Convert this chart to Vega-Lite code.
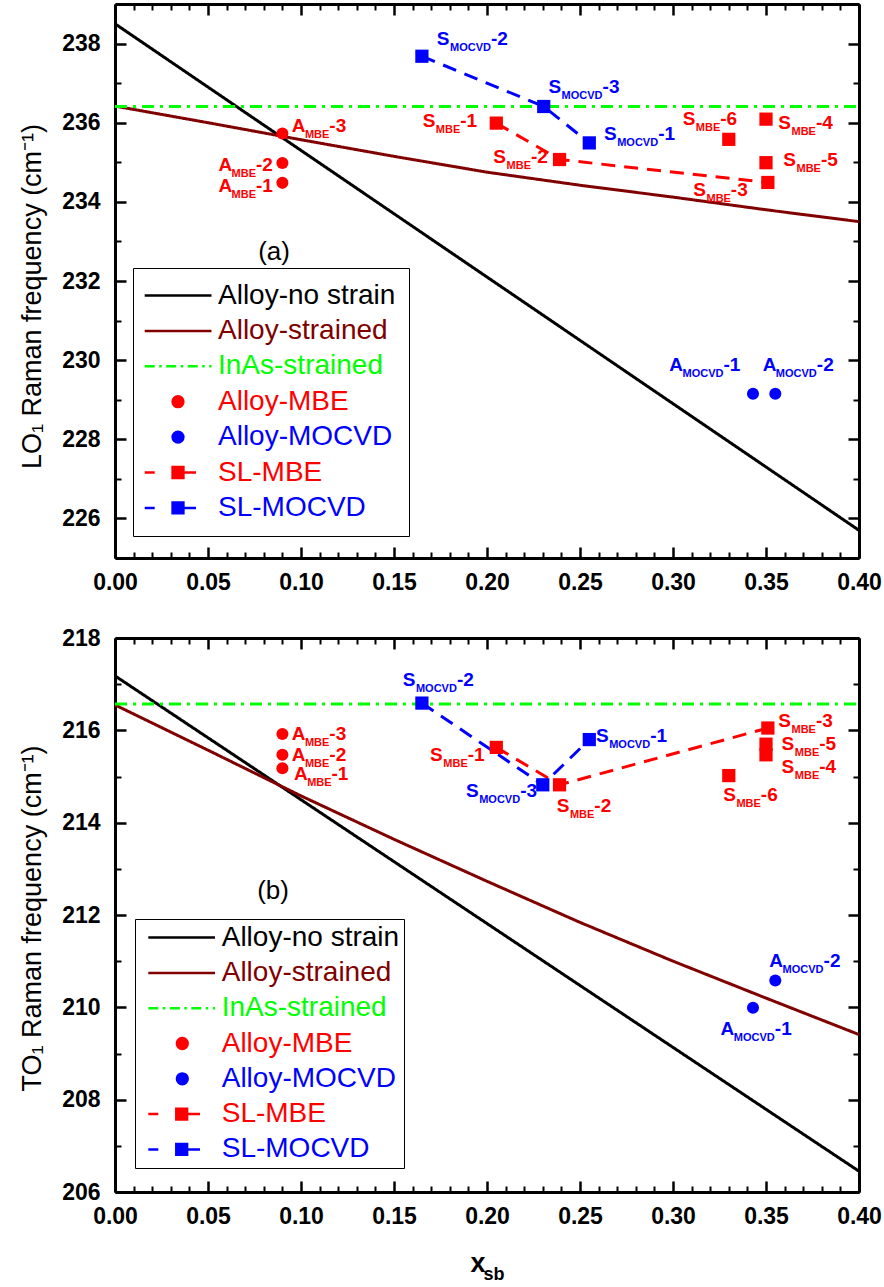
{
  "$schema": "https://vega.github.io/schema/vega-lite/v6.json",
  "padding": {"left": 18, "top": 2, "right": 0, "bottom": 0},
  "background": "white",
  "spacing": 33,
  "config": {
    "font": "Liberation Sans",
    "view": {"stroke": null},
    "axis": {"grid": false, "domainColor": "black", "tickColor": "black", "labelColor": "black", "titleColor": "black", "labelFont": "Liberation Sans", "titleFont": "Liberation Sans", "labelFlush": false, "labelOverlap": false}
  },
  "resolve": {"scale": {"color": "independent", "fill": "independent", "stroke": "independent", "shape": "independent", "strokeDash": "independent"}},
  "datasets": {
    "curves": [
      {"p": "a", "series": "Alloy-no strain", "x": 0, "y": 238.5},
      {"p": "a", "series": "Alloy-no strain", "x": 0.4, "y": 225.7},
      {"p": "a", "series": "Alloy-strained", "x": 0, "y": 236.42},
      {"p": "a", "series": "Alloy-strained", "x": 0.05, "y": 236.0},
      {"p": "a", "series": "Alloy-strained", "x": 0.1, "y": 235.57},
      {"p": "a", "series": "Alloy-strained", "x": 0.15, "y": 235.15},
      {"p": "a", "series": "Alloy-strained", "x": 0.2, "y": 234.75},
      {"p": "a", "series": "Alloy-strained", "x": 0.25, "y": 234.42},
      {"p": "a", "series": "Alloy-strained", "x": 0.3, "y": 234.12},
      {"p": "a", "series": "Alloy-strained", "x": 0.35, "y": 233.8},
      {"p": "a", "series": "Alloy-strained", "x": 0.4, "y": 233.5},
      {"p": "a", "series": "InAs-strained", "x": 0, "y": 236.41},
      {"p": "a", "series": "InAs-strained", "x": 0.4, "y": 236.41},
      {"p": "b", "series": "Alloy-no strain", "x": 0, "y": 217.18},
      {"p": "b", "series": "Alloy-no strain", "x": 0.4, "y": 206.45},
      {"p": "b", "series": "Alloy-strained", "x": 0, "y": 216.55},
      {"p": "b", "series": "Alloy-strained", "x": 0.05, "y": 215.57},
      {"p": "b", "series": "Alloy-strained", "x": 0.1, "y": 214.58},
      {"p": "b", "series": "Alloy-strained", "x": 0.15, "y": 213.64},
      {"p": "b", "series": "Alloy-strained", "x": 0.2, "y": 212.73},
      {"p": "b", "series": "Alloy-strained", "x": 0.25, "y": 211.84},
      {"p": "b", "series": "Alloy-strained", "x": 0.3, "y": 211.0},
      {"p": "b", "series": "Alloy-strained", "x": 0.35, "y": 210.2},
      {"p": "b", "series": "Alloy-strained", "x": 0.4, "y": 209.41},
      {"p": "b", "series": "InAs-strained", "x": 0, "y": 216.57},
      {"p": "b", "series": "InAs-strained", "x": 0.4, "y": 216.57}
    ],
    "pts": [
      {"p": "a", "series": "Alloy-MBE", "pre": "A", "sub": "MBE", "num": "-3", "x": 0.09, "y": 235.73, "lx": 0.095, "ly": 235.76, "conn": false},
      {"p": "a", "series": "Alloy-MBE", "pre": "A", "sub": "MBE", "num": "-2", "x": 0.09, "y": 234.98, "lx": 0.0556, "ly": 234.79, "conn": false},
      {"p": "a", "series": "Alloy-MBE", "pre": "A", "sub": "MBE", "num": "-1", "x": 0.09, "y": 234.48, "lx": 0.0556, "ly": 234.24, "conn": false},
      {"p": "a", "series": "Alloy-MOCVD", "pre": "A", "sub": "MOCVD", "num": "-1", "x": 0.343, "y": 229.15, "lx": 0.298, "ly": 229.73, "conn": false},
      {"p": "a", "series": "Alloy-MOCVD", "pre": "A", "sub": "MOCVD", "num": "-2", "x": 0.355, "y": 229.15, "lx": 0.3482, "ly": 229.73, "conn": false},
      {"p": "a", "series": "SL-MBE", "pre": "S", "sub": "MBE", "num": "-1", "x": 0.205, "y": 235.99, "lx": 0.1654, "ly": 235.88, "conn": true},
      {"p": "a", "series": "SL-MBE", "pre": "S", "sub": "MBE", "num": "-2", "x": 0.239, "y": 235.07, "lx": 0.2034, "ly": 234.98, "conn": true},
      {"p": "a", "series": "SL-MBE", "pre": "S", "sub": "MBE", "num": "-3", "x": 0.351, "y": 234.49, "lx": 0.3109, "ly": 234.16, "conn": true},
      {"p": "a", "series": "SL-MBE", "pre": "S", "sub": "MBE", "num": "-4", "x": 0.35, "y": 236.09, "lx": 0.3566, "ly": 235.84, "conn": false},
      {"p": "a", "series": "SL-MBE", "pre": "S", "sub": "MBE", "num": "-5", "x": 0.35, "y": 234.99, "lx": 0.3593, "ly": 234.91, "conn": false},
      {"p": "a", "series": "SL-MBE", "pre": "S", "sub": "MBE", "num": "-6", "x": 0.33, "y": 235.58, "lx": 0.3052, "ly": 235.93, "conn": false},
      {"p": "a", "series": "SL-MOCVD", "pre": "S", "sub": "MOCVD", "num": "-1", "x": 0.255, "y": 235.49, "lx": 0.2629, "ly": 235.56, "conn": true},
      {"p": "a", "series": "SL-MOCVD", "pre": "S", "sub": "MOCVD", "num": "-2", "x": 0.165, "y": 237.68, "lx": 0.173, "ly": 237.97, "conn": true},
      {"p": "a", "series": "SL-MOCVD", "pre": "S", "sub": "MOCVD", "num": "-3", "x": 0.2305, "y": 236.41, "lx": 0.233, "ly": 236.74, "conn": true},
      {"p": "b", "series": "Alloy-MBE", "pre": "A", "sub": "MBE", "num": "-3", "x": 0.09, "y": 215.92, "lx": 0.095, "ly": 215.78, "conn": false},
      {"p": "b", "series": "Alloy-MBE", "pre": "A", "sub": "MBE", "num": "-2", "x": 0.09, "y": 215.47, "lx": 0.095, "ly": 215.34, "conn": false},
      {"p": "b", "series": "Alloy-MBE", "pre": "A", "sub": "MBE", "num": "-1", "x": 0.09, "y": 215.18, "lx": 0.0962, "ly": 214.92, "conn": false},
      {"p": "b", "series": "Alloy-MOCVD", "pre": "A", "sub": "MOCVD", "num": "-1", "x": 0.343, "y": 209.99, "lx": 0.3256, "ly": 209.4, "conn": false},
      {"p": "b", "series": "Alloy-MOCVD", "pre": "A", "sub": "MOCVD", "num": "-2", "x": 0.355, "y": 210.58, "lx": 0.3518, "ly": 210.88, "conn": false},
      {"p": "b", "series": "SL-MBE", "pre": "S", "sub": "MBE", "num": "-1", "x": 0.205, "y": 215.63, "lx": 0.1694, "ly": 215.33, "conn": true},
      {"p": "b", "series": "SL-MBE", "pre": "S", "sub": "MBE", "num": "-2", "x": 0.239, "y": 214.82, "lx": 0.2375, "ly": 214.24, "conn": true},
      {"p": "b", "series": "SL-MBE", "pre": "S", "sub": "MBE", "num": "-3", "x": 0.351, "y": 216.05, "lx": 0.3566, "ly": 216.08, "conn": true},
      {"p": "b", "series": "SL-MBE", "pre": "S", "sub": "MBE", "num": "-4", "x": 0.35, "y": 215.47, "lx": 0.3584, "ly": 215.07, "conn": false},
      {"p": "b", "series": "SL-MBE", "pre": "S", "sub": "MBE", "num": "-5", "x": 0.35, "y": 215.7, "lx": 0.3584, "ly": 215.57, "conn": false},
      {"p": "b", "series": "SL-MBE", "pre": "S", "sub": "MBE", "num": "-6", "x": 0.33, "y": 215.02, "lx": 0.327, "ly": 214.47, "conn": false},
      {"p": "b", "series": "SL-MOCVD", "pre": "S", "sub": "MOCVD", "num": "-1", "x": 0.255, "y": 215.8, "lx": 0.2586, "ly": 215.75, "conn": true},
      {"p": "b", "series": "SL-MOCVD", "pre": "S", "sub": "MOCVD", "num": "-2", "x": 0.165, "y": 216.59, "lx": 0.1547, "ly": 216.95, "conn": true},
      {"p": "b", "series": "SL-MOCVD", "pre": "S", "sub": "MOCVD", "num": "-3", "x": 0.23, "y": 214.82, "lx": 0.1887, "ly": 214.56, "conn": true}
    ],
    "tags": [
      {"p": "a", "t": "(a)", "x": 0.0855, "y": 232.73},
      {"p": "b", "t": "(b)", "x": 0.085, "y": 212.51}
    ]
  },
  "vconcat": [
    {
      "width": 744,
      "height": 554,
      "resolve": {"axis": {"x": "independent", "y": "independent"}},
      "layer": [
        {
          "data": {"name": "curves"},
          "transform": [{"filter": "datum.p === 'a'"}],
          "mark": {"type": "line", "strokeWidth": 3},
          "encoding": {
            "x": {"field": "x", "type": "quantitative", "scale": {"domain": [0, 0.4], "nice": false, "zero": false},
              "axis": {"orient": "bottom", "values": [0, 0.05, 0.1, 0.15, 0.2, 0.25, 0.3, 0.35, 0.4], "format": ".2f", "labelFontSize": 23, "labelFontWeight": "bold", "tickSize": -11, "tickWidth": 2.5, "domainWidth": 3, "labelPadding": 24, "title": null}},
            "y": {"field": "y", "type": "quantitative", "scale": {"domain": [225, 239], "nice": false, "zero": false},
              "axis": {"orient": "left", "values": [226, 228, 230, 232, 234, 236, 238], "labelFontSize": 23, "labelFontWeight": "bold", "tickSize": -11, "tickWidth": 2.5, "domainWidth": 3, "labelPadding": 26,
                "title": "LO₁ Raman frequency (cm⁻¹)", "titleFontSize": 27, "titleFontWeight": "normal", "titleX": -83, "titleY": 292, "titleAngle": -90, "titleAlign": "center", "titleBaseline": "middle"}},
            "color": {"field": "series", "type": "nominal", "legend": null,
              "scale": {"domain": ["SL-MOCVD", "SL-MBE", "Alloy-MOCVD", "Alloy-MBE", "InAs-strained", "Alloy-strained", "Alloy-no strain"], "range": ["#0000ff", "#ff0000", "#0000ff", "#ff0000", "#00ff00", "#800000", "#000000"]}},
            "strokeDash": {"field": "series", "type": "nominal", "legend": null,
              "scale": {"domain": ["Alloy-no strain", "Alloy-strained", "InAs-strained"], "range": [[1, 0], [1, 0], [12, 6, 3, 6]]}}
          }
        },
        {
          "data": {"name": "pts"},
          "transform": [{"filter": "datum.p === 'a' && datum.conn"}],
          "mark": {"type": "line", "strokeWidth": 3, "strokeDash": [14, 9]},
          "encoding": {
            "x": {"field": "x", "type": "quantitative", "scale": {"domain": [0, 0.4], "nice": false, "zero": false},
              "axis": {"orient": "top", "values": [0, 0.05, 0.1, 0.15, 0.2, 0.25, 0.3, 0.35, 0.4], "labels": false, "tickSize": -11, "tickWidth": 2.5, "domainWidth": 3, "title": null}},
            "y": {"field": "y", "type": "quantitative", "scale": {"domain": [225, 239], "nice": false, "zero": false},
              "axis": {"orient": "right", "values": [226, 228, 230, 232, 234, 236, 238], "labels": false, "tickSize": -11, "tickWidth": 2.5, "domainWidth": 3, "title": null}},
            "color": {"field": "series", "type": "nominal", "legend": null,
              "scale": {"domain": ["SL-MOCVD", "SL-MBE", "Alloy-MOCVD", "Alloy-MBE", "InAs-strained", "Alloy-strained", "Alloy-no strain"], "range": ["#0000ff", "#ff0000", "#0000ff", "#ff0000", "#00ff00", "#800000", "#000000"]}},
            "order": {"field": "x", "type": "quantitative"}
          }
        },
        {
          "data": {"name": "pts"},
          "transform": [{"filter": "datum.p === 'a' && datum.pre === 'A'"}],
          "mark": {"type": "point", "shape": "circle", "filled": true, "opacity": 1, "size": 145},
          "encoding": {
            "x": {"field": "x", "type": "quantitative", "scale": {"domain": [0, 0.4], "nice": false, "zero": false},
              "axis": {"orient": "bottom", "values": [0.01, 0.02, 0.03, 0.04, 0.06, 0.07, 0.08, 0.09, 0.11, 0.12, 0.13, 0.14, 0.16, 0.17, 0.18, 0.19, 0.21, 0.22, 0.23, 0.24, 0.26, 0.27, 0.28, 0.29, 0.31, 0.32, 0.33, 0.34, 0.36, 0.37, 0.38, 0.39], "labels": false, "domain": false, "tickSize": -6, "tickWidth": 2, "title": null}},
            "y": {"field": "y", "type": "quantitative", "scale": {"domain": [225, 239], "nice": false, "zero": false},
              "axis": {"orient": "left", "values": [225, 227, 229, 231, 233, 235, 237, 239], "labels": false, "domain": false, "tickSize": -6, "tickWidth": 2, "title": null}},
            "color": {"field": "series", "type": "nominal", "legend": null,
              "scale": {"domain": ["SL-MOCVD", "SL-MBE", "Alloy-MOCVD", "Alloy-MBE", "InAs-strained", "Alloy-strained", "Alloy-no strain"], "range": ["#0000ff", "#ff0000", "#0000ff", "#ff0000", "#00ff00", "#800000", "#000000"]}}
          }
        },
        {
          "data": {"name": "pts"},
          "transform": [{"filter": "datum.p === 'a' && datum.pre === 'S'"}],
          "mark": {"type": "point", "shape": "square", "filled": true, "opacity": 1, "size": 175},
          "encoding": {
            "x": {"field": "x", "type": "quantitative", "scale": {"domain": [0, 0.4], "nice": false, "zero": false},
              "axis": {"orient": "top", "values": [0.01, 0.02, 0.03, 0.04, 0.06, 0.07, 0.08, 0.09, 0.11, 0.12, 0.13, 0.14, 0.16, 0.17, 0.18, 0.19, 0.21, 0.22, 0.23, 0.24, 0.26, 0.27, 0.28, 0.29, 0.31, 0.32, 0.33, 0.34, 0.36, 0.37, 0.38, 0.39], "labels": false, "domain": false, "tickSize": -6, "tickWidth": 2, "title": null}},
            "y": {"field": "y", "type": "quantitative", "scale": {"domain": [225, 239], "nice": false, "zero": false},
              "axis": {"orient": "right", "values": [225, 227, 229, 231, 233, 235, 237, 239], "labels": false, "domain": false, "tickSize": -6, "tickWidth": 2, "title": null}},
            "color": {"field": "series", "type": "nominal", "legend": null,
              "scale": {"domain": ["SL-MOCVD", "SL-MBE", "Alloy-MOCVD", "Alloy-MBE", "InAs-strained", "Alloy-strained", "Alloy-no strain"], "range": ["#0000ff", "#ff0000", "#0000ff", "#ff0000", "#00ff00", "#800000", "#000000"]}}
          }
        },
        {
          "data": {"name": "pts"},
          "transform": [{"filter": "datum.p === 'a'"}],
          "mark": {"type": "text", "align": "left", "baseline": "alphabetic", "fontSize": 19, "fontWeight": "bold"},
          "encoding": {
            "x": {"field": "lx", "type": "quantitative", "scale": {"domain": [0, 0.4], "nice": false, "zero": false}, "axis": null},
            "y": {"field": "ly", "type": "quantitative", "scale": {"domain": [225, 239], "nice": false, "zero": false}, "axis": null},
            "text": {"field": "pre"},
            "color": {"field": "series", "type": "nominal", "legend": null,
              "scale": {"domain": ["SL-MOCVD", "SL-MBE", "Alloy-MOCVD", "Alloy-MBE", "InAs-strained", "Alloy-strained", "Alloy-no strain"], "range": ["#0000ff", "#ff0000", "#0000ff", "#ff0000", "#00ff00", "#800000", "#000000"]}}
          }
        },
        {
          "data": {"name": "pts"},
          "transform": [{"filter": "datum.p === 'a'"}],
          "mark": {"type": "text", "align": "left", "baseline": "alphabetic", "fontSize": 11, "fontWeight": "bold", "dx": 13.2, "dy": 6},
          "encoding": {
            "x": {"field": "lx", "type": "quantitative", "scale": {"domain": [0, 0.4], "nice": false, "zero": false}, "axis": null},
            "y": {"field": "ly", "type": "quantitative", "scale": {"domain": [225, 239], "nice": false, "zero": false}, "axis": null},
            "text": {"field": "sub"},
            "color": {"field": "series", "type": "nominal", "legend": null,
              "scale": {"domain": ["SL-MOCVD", "SL-MBE", "Alloy-MOCVD", "Alloy-MBE", "InAs-strained", "Alloy-strained", "Alloy-no strain"], "range": ["#0000ff", "#ff0000", "#0000ff", "#ff0000", "#00ff00", "#800000", "#000000"]}}
          }
        },
        {
          "data": {"name": "pts"},
          "transform": [{"filter": "datum.p === 'a' && datum.sub === 'MBE'"}],
          "mark": {"type": "text", "align": "left", "baseline": "alphabetic", "fontSize": 19, "fontWeight": "bold", "dx": 37.6},
          "encoding": {
            "x": {"field": "lx", "type": "quantitative", "scale": {"domain": [0, 0.4], "nice": false, "zero": false}, "axis": null},
            "y": {"field": "ly", "type": "quantitative", "scale": {"domain": [225, 239], "nice": false, "zero": false}, "axis": null},
            "text": {"field": "num"},
            "color": {"field": "series", "type": "nominal", "legend": null,
              "scale": {"domain": ["SL-MOCVD", "SL-MBE", "Alloy-MOCVD", "Alloy-MBE", "InAs-strained", "Alloy-strained", "Alloy-no strain"], "range": ["#0000ff", "#ff0000", "#0000ff", "#ff0000", "#00ff00", "#800000", "#000000"]}}
          }
        },
        {
          "data": {"name": "pts"},
          "transform": [{"filter": "datum.p === 'a' && datum.sub === 'MOCVD'"}],
          "mark": {"type": "text", "align": "left", "baseline": "alphabetic", "fontSize": 19, "fontWeight": "bold", "dx": 54.2},
          "encoding": {
            "x": {"field": "lx", "type": "quantitative", "scale": {"domain": [0, 0.4], "nice": false, "zero": false}, "axis": null},
            "y": {"field": "ly", "type": "quantitative", "scale": {"domain": [225, 239], "nice": false, "zero": false}, "axis": null},
            "text": {"field": "num"},
            "color": {"field": "series", "type": "nominal", "legend": null,
              "scale": {"domain": ["SL-MOCVD", "SL-MBE", "Alloy-MOCVD", "Alloy-MBE", "InAs-strained", "Alloy-strained", "Alloy-no strain"], "range": ["#0000ff", "#ff0000", "#0000ff", "#ff0000", "#00ff00", "#800000", "#000000"]}}
          }
        },
        {
          "data": {"name": "tags"},
          "transform": [{"filter": "datum.p === 'a'"}],
          "mark": {"type": "text", "align": "center", "baseline": "middle", "fontSize": 26, "color": "black"},
          "encoding": {
            "x": {"field": "x", "type": "quantitative", "scale": {"domain": [0, 0.4], "nice": false, "zero": false}, "axis": null},
            "y": {"field": "y", "type": "quantitative", "scale": {"domain": [225, 239], "nice": false, "zero": false}, "axis": null},
            "text": {"field": "t"}
          }
        },
        {
          "data": {"name": "pts"},
          "transform": [{"filter": "false"}],
          "mark": {"type": "point"},
          "encoding": {
            "x": {"field": "x", "type": "quantitative", "scale": {"domain": [0, 0.4], "nice": false, "zero": false}, "axis": null},
            "y": {"field": "y", "type": "quantitative", "scale": {"domain": [225, 239], "nice": false, "zero": false}, "axis": null},
            "fill": {"field": "series", "type": "nominal",
              "scale": {"domain": ["Alloy-no strain", "Alloy-strained", "InAs-strained", "Alloy-MBE", "Alloy-MOCVD", "SL-MBE", "SL-MOCVD"], "range": ["#000000", "#800000", "#00ff00", "#ff0000", "#0000ff", "#ff0000", "#0000ff"]},
              "legend": {"title": null, "orient": "none", "legendX": 18, "legendY": 264, "padding": 13.5, "strokeColor": "black", "symbolSize": 400, "symbolStrokeWidth": 2.5, "symbolFillColor": "black", "symbolOpacity": 1, "labelFontSize": 28, "labelFont": "Liberation Sans", "labelOffset": 43.5, "rowPadding": 7.4, "labelLimit": 400,
                "labelColor": {"expr": "datum.value === 'Alloy-no strain' ? '#000000' : datum.value === 'Alloy-strained' ? '#800000' : datum.value === 'InAs-strained' ? '#00ff00' : indexof(datum.value, 'MOCVD') >= 0 ? '#0000ff' : '#ff0000'"}}},
            "stroke": {"field": "series", "type": "nominal",
              "scale": {"domain": ["Alloy-no strain", "Alloy-strained", "InAs-strained", "Alloy-MBE", "Alloy-MOCVD", "SL-MBE", "SL-MOCVD"], "range": ["#000000", "#800000", "#00ff00", "#ff0000", "#0000ff", "#ff0000", "#0000ff"]},
              "legend": {"title": null, "orient": "none", "legendX": 18, "legendY": 264, "padding": 13.5, "strokeColor": "black", "symbolSize": 400, "symbolStrokeWidth": 2.5, "symbolFillColor": "black", "symbolOpacity": 1, "labelFontSize": 28, "labelFont": "Liberation Sans", "labelOffset": 43.5, "rowPadding": 7.4, "labelLimit": 400,
                "labelColor": {"expr": "datum.value === 'Alloy-no strain' ? '#000000' : datum.value === 'Alloy-strained' ? '#800000' : datum.value === 'InAs-strained' ? '#00ff00' : indexof(datum.value, 'MOCVD') >= 0 ? '#0000ff' : '#ff0000'"}}},
            "shape": {"field": "series", "type": "nominal",
              "scale": {"domain": ["Alloy-no strain", "Alloy-strained", "InAs-strained", "Alloy-MBE", "Alloy-MOCVD", "SL-MBE", "SL-MOCVD"],
                "range": ["M-1.58,0H5.1", "M-1.58,0H5.1", "M-1.58,0H-0.58M-0.13,0H0.12M0.57,0H1.57M2.02,0H2.27M2.72,0H3.72M4.17,0H4.42M4.87,0H5.1", "M2.29,0A0.54,0.54,0,1,1,1.21,0A0.54,0.54,0,1,1,2.29,0Z", "M2.29,0A0.54,0.54,0,1,1,1.21,0A0.54,0.54,0,1,1,2.29,0Z", "M-1.58,0H-0.58M1.21,-0.54H2.29V0.54H1.21ZM2.29,0H3.55", "M-1.58,0H-0.58M1.21,-0.54H2.29V0.54H1.21ZM2.29,0H3.55"]},
              "legend": {"title": null, "orient": "none", "legendX": 18, "legendY": 264, "padding": 13.5, "strokeColor": "black", "symbolSize": 400, "symbolStrokeWidth": 2.5, "symbolFillColor": "black", "symbolOpacity": 1, "labelFontSize": 28, "labelFont": "Liberation Sans", "labelOffset": 43.5, "rowPadding": 7.4, "labelLimit": 400,
                "labelColor": {"expr": "datum.value === 'Alloy-no strain' ? '#000000' : datum.value === 'Alloy-strained' ? '#800000' : datum.value === 'InAs-strained' ? '#00ff00' : indexof(datum.value, 'MOCVD') >= 0 ? '#0000ff' : '#ff0000'"}}}
          }
        }
      ]
    },
    {
      "width": 744,
      "height": 554,
      "resolve": {"axis": {"x": "independent", "y": "independent"}},
      "layer": [
        {
          "data": {"name": "curves"},
          "transform": [{"filter": "datum.p === 'b'"}],
          "mark": {"type": "line", "strokeWidth": 3},
          "encoding": {
            "x": {"field": "x", "type": "quantitative", "scale": {"domain": [0, 0.4], "nice": false, "zero": false},
              "axis": {"orient": "bottom", "values": [0, 0.05, 0.1, 0.15, 0.2, 0.25, 0.3, 0.35, 0.4], "format": ".2f", "labelFontSize": 23, "labelFontWeight": "bold", "tickSize": -11, "tickWidth": 2.5, "domainWidth": 3, "labelPadding": 24,
                "title": "x", "titleFontSize": 27, "titleFontWeight": "bold", "titleX": 355, "titleY": 79, "titleAlign": "left", "titleBaseline": "alphabetic", "titleAngle": 0}},
            "y": {"field": "y", "type": "quantitative", "scale": {"domain": [206, 218], "nice": false, "zero": false},
              "axis": {"orient": "left", "values": [206, 208, 210, 212, 214, 216, 218], "labelFontSize": 23, "labelFontWeight": "bold", "tickSize": -11, "tickWidth": 2.5, "domainWidth": 3, "labelPadding": 26,
                "title": "TO₁ Raman frequency (cm⁻¹)", "titleFontSize": 27, "titleFontWeight": "normal", "titleX": -83, "titleY": 280, "titleAngle": -90, "titleAlign": "center", "titleBaseline": "middle"}},
            "color": {"field": "series", "type": "nominal", "legend": null,
              "scale": {"domain": ["SL-MOCVD", "SL-MBE", "Alloy-MOCVD", "Alloy-MBE", "InAs-strained", "Alloy-strained", "Alloy-no strain"], "range": ["#0000ff", "#ff0000", "#0000ff", "#ff0000", "#00ff00", "#800000", "#000000"]}},
            "strokeDash": {"field": "series", "type": "nominal", "legend": null,
              "scale": {"domain": ["Alloy-no strain", "Alloy-strained", "InAs-strained"], "range": [[1, 0], [1, 0], [12, 6, 3, 6]]}}
          }
        },
        {
          "data": {"name": "pts"},
          "transform": [{"filter": "datum.p === 'b' && datum.conn"}],
          "mark": {"type": "line", "strokeWidth": 3, "strokeDash": [14, 9]},
          "encoding": {
            "x": {"field": "x", "type": "quantitative", "scale": {"domain": [0, 0.4], "nice": false, "zero": false},
              "axis": {"orient": "top", "values": [0, 0.05, 0.1, 0.15, 0.2, 0.25, 0.3, 0.35, 0.4], "labels": false, "tickSize": -11, "tickWidth": 2.5, "domainWidth": 3, "title": null}},
            "y": {"field": "y", "type": "quantitative", "scale": {"domain": [206, 218], "nice": false, "zero": false},
              "axis": {"orient": "right", "values": [206, 208, 210, 212, 214, 216, 218], "labels": false, "tickSize": -11, "tickWidth": 2.5, "domainWidth": 3, "title": null}},
            "color": {"field": "series", "type": "nominal", "legend": null,
              "scale": {"domain": ["SL-MOCVD", "SL-MBE", "Alloy-MOCVD", "Alloy-MBE", "InAs-strained", "Alloy-strained", "Alloy-no strain"], "range": ["#0000ff", "#ff0000", "#0000ff", "#ff0000", "#00ff00", "#800000", "#000000"]}},
            "order": {"field": "x", "type": "quantitative"}
          }
        },
        {
          "data": {"name": "pts"},
          "transform": [{"filter": "datum.p === 'b' && datum.pre === 'A'"}],
          "mark": {"type": "point", "shape": "circle", "filled": true, "opacity": 1, "size": 145},
          "encoding": {
            "x": {"field": "x", "type": "quantitative", "scale": {"domain": [0, 0.4], "nice": false, "zero": false},
              "axis": {"orient": "bottom", "values": [0.01, 0.02, 0.03, 0.04, 0.06, 0.07, 0.08, 0.09, 0.11, 0.12, 0.13, 0.14, 0.16, 0.17, 0.18, 0.19, 0.21, 0.22, 0.23, 0.24, 0.26, 0.27, 0.28, 0.29, 0.31, 0.32, 0.33, 0.34, 0.36, 0.37, 0.38, 0.39], "labels": false, "domain": false, "tickSize": -6, "tickWidth": 2,
                "title": "sb", "titleFontSize": 18, "titleFontWeight": "bold", "titleX": 368, "titleY": 87, "titleAlign": "left", "titleBaseline": "alphabetic", "titleAngle": 0}},
            "y": {"field": "y", "type": "quantitative", "scale": {"domain": [206, 218], "nice": false, "zero": false},
              "axis": {"orient": "left", "values": [207, 209, 211, 213, 215, 217], "labels": false, "domain": false, "tickSize": -6, "tickWidth": 2, "title": null}},
            "color": {"field": "series", "type": "nominal", "legend": null,
              "scale": {"domain": ["SL-MOCVD", "SL-MBE", "Alloy-MOCVD", "Alloy-MBE", "InAs-strained", "Alloy-strained", "Alloy-no strain"], "range": ["#0000ff", "#ff0000", "#0000ff", "#ff0000", "#00ff00", "#800000", "#000000"]}}
          }
        },
        {
          "data": {"name": "pts"},
          "transform": [{"filter": "datum.p === 'b' && datum.pre === 'S'"}],
          "mark": {"type": "point", "shape": "square", "filled": true, "opacity": 1, "size": 175},
          "encoding": {
            "x": {"field": "x", "type": "quantitative", "scale": {"domain": [0, 0.4], "nice": false, "zero": false},
              "axis": {"orient": "top", "values": [0.01, 0.02, 0.03, 0.04, 0.06, 0.07, 0.08, 0.09, 0.11, 0.12, 0.13, 0.14, 0.16, 0.17, 0.18, 0.19, 0.21, 0.22, 0.23, 0.24, 0.26, 0.27, 0.28, 0.29, 0.31, 0.32, 0.33, 0.34, 0.36, 0.37, 0.38, 0.39], "labels": false, "domain": false, "tickSize": -6, "tickWidth": 2, "title": null}},
            "y": {"field": "y", "type": "quantitative", "scale": {"domain": [206, 218], "nice": false, "zero": false},
              "axis": {"orient": "right", "values": [207, 209, 211, 213, 215, 217], "labels": false, "domain": false, "tickSize": -6, "tickWidth": 2, "title": null}},
            "color": {"field": "series", "type": "nominal", "legend": null,
              "scale": {"domain": ["SL-MOCVD", "SL-MBE", "Alloy-MOCVD", "Alloy-MBE", "InAs-strained", "Alloy-strained", "Alloy-no strain"], "range": ["#0000ff", "#ff0000", "#0000ff", "#ff0000", "#00ff00", "#800000", "#000000"]}}
          }
        },
        {
          "data": {"name": "pts"},
          "transform": [{"filter": "datum.p === 'b'"}],
          "mark": {"type": "text", "align": "left", "baseline": "alphabetic", "fontSize": 19, "fontWeight": "bold"},
          "encoding": {
            "x": {"field": "lx", "type": "quantitative", "scale": {"domain": [0, 0.4], "nice": false, "zero": false}, "axis": null},
            "y": {"field": "ly", "type": "quantitative", "scale": {"domain": [206, 218], "nice": false, "zero": false}, "axis": null},
            "text": {"field": "pre"},
            "color": {"field": "series", "type": "nominal", "legend": null,
              "scale": {"domain": ["SL-MOCVD", "SL-MBE", "Alloy-MOCVD", "Alloy-MBE", "InAs-strained", "Alloy-strained", "Alloy-no strain"], "range": ["#0000ff", "#ff0000", "#0000ff", "#ff0000", "#00ff00", "#800000", "#000000"]}}
          }
        },
        {
          "data": {"name": "pts"},
          "transform": [{"filter": "datum.p === 'b'"}],
          "mark": {"type": "text", "align": "left", "baseline": "alphabetic", "fontSize": 11, "fontWeight": "bold", "dx": 13.2, "dy": 6},
          "encoding": {
            "x": {"field": "lx", "type": "quantitative", "scale": {"domain": [0, 0.4], "nice": false, "zero": false}, "axis": null},
            "y": {"field": "ly", "type": "quantitative", "scale": {"domain": [206, 218], "nice": false, "zero": false}, "axis": null},
            "text": {"field": "sub"},
            "color": {"field": "series", "type": "nominal", "legend": null,
              "scale": {"domain": ["SL-MOCVD", "SL-MBE", "Alloy-MOCVD", "Alloy-MBE", "InAs-strained", "Alloy-strained", "Alloy-no strain"], "range": ["#0000ff", "#ff0000", "#0000ff", "#ff0000", "#00ff00", "#800000", "#000000"]}}
          }
        },
        {
          "data": {"name": "pts"},
          "transform": [{"filter": "datum.p === 'b' && datum.sub === 'MBE'"}],
          "mark": {"type": "text", "align": "left", "baseline": "alphabetic", "fontSize": 19, "fontWeight": "bold", "dx": 37.6},
          "encoding": {
            "x": {"field": "lx", "type": "quantitative", "scale": {"domain": [0, 0.4], "nice": false, "zero": false}, "axis": null},
            "y": {"field": "ly", "type": "quantitative", "scale": {"domain": [206, 218], "nice": false, "zero": false}, "axis": null},
            "text": {"field": "num"},
            "color": {"field": "series", "type": "nominal", "legend": null,
              "scale": {"domain": ["SL-MOCVD", "SL-MBE", "Alloy-MOCVD", "Alloy-MBE", "InAs-strained", "Alloy-strained", "Alloy-no strain"], "range": ["#0000ff", "#ff0000", "#0000ff", "#ff0000", "#00ff00", "#800000", "#000000"]}}
          }
        },
        {
          "data": {"name": "pts"},
          "transform": [{"filter": "datum.p === 'b' && datum.sub === 'MOCVD'"}],
          "mark": {"type": "text", "align": "left", "baseline": "alphabetic", "fontSize": 19, "fontWeight": "bold", "dx": 54.2},
          "encoding": {
            "x": {"field": "lx", "type": "quantitative", "scale": {"domain": [0, 0.4], "nice": false, "zero": false}, "axis": null},
            "y": {"field": "ly", "type": "quantitative", "scale": {"domain": [206, 218], "nice": false, "zero": false}, "axis": null},
            "text": {"field": "num"},
            "color": {"field": "series", "type": "nominal", "legend": null,
              "scale": {"domain": ["SL-MOCVD", "SL-MBE", "Alloy-MOCVD", "Alloy-MBE", "InAs-strained", "Alloy-strained", "Alloy-no strain"], "range": ["#0000ff", "#ff0000", "#0000ff", "#ff0000", "#00ff00", "#800000", "#000000"]}}
          }
        },
        {
          "data": {"name": "tags"},
          "transform": [{"filter": "datum.p === 'b'"}],
          "mark": {"type": "text", "align": "center", "baseline": "middle", "fontSize": 26, "color": "black"},
          "encoding": {
            "x": {"field": "x", "type": "quantitative", "scale": {"domain": [0, 0.4], "nice": false, "zero": false}, "axis": null},
            "y": {"field": "y", "type": "quantitative", "scale": {"domain": [206, 218], "nice": false, "zero": false}, "axis": null},
            "text": {"field": "t"}
          }
        },
        {
          "data": {"name": "pts"},
          "transform": [{"filter": "false"}],
          "mark": {"type": "point"},
          "encoding": {
            "x": {"field": "x", "type": "quantitative", "scale": {"domain": [0, 0.4], "nice": false, "zero": false}, "axis": null},
            "y": {"field": "y", "type": "quantitative", "scale": {"domain": [206, 218], "nice": false, "zero": false}, "axis": null},
            "fill": {"field": "series", "type": "nominal",
              "scale": {"domain": ["Alloy-no strain", "Alloy-strained", "InAs-strained", "Alloy-MBE", "Alloy-MOCVD", "SL-MBE", "SL-MOCVD"], "range": ["#000000", "#800000", "#00ff00", "#ff0000", "#0000ff", "#ff0000", "#0000ff"]},
              "legend": {"title": null, "orient": "none", "legendX": 20, "legendY": 281, "padding": 4.6, "strokeColor": "black", "symbolSize": 400, "symbolStrokeWidth": 2.5, "symbolFillColor": "black", "symbolOpacity": 1, "labelFontSize": 28, "labelFont": "Liberation Sans", "labelOffset": 54.1, "rowPadding": 7.3, "labelLimit": 400,
                "labelColor": {"expr": "datum.value === 'Alloy-no strain' ? '#000000' : datum.value === 'Alloy-strained' ? '#800000' : datum.value === 'InAs-strained' ? '#00ff00' : indexof(datum.value, 'MOCVD') >= 0 ? '#0000ff' : '#ff0000'"}}},
            "stroke": {"field": "series", "type": "nominal",
              "scale": {"domain": ["Alloy-no strain", "Alloy-strained", "InAs-strained", "Alloy-MBE", "Alloy-MOCVD", "SL-MBE", "SL-MOCVD"], "range": ["#000000", "#800000", "#00ff00", "#ff0000", "#0000ff", "#ff0000", "#0000ff"]},
              "legend": {"title": null, "orient": "none", "legendX": 20, "legendY": 281, "padding": 4.6, "strokeColor": "black", "symbolSize": 400, "symbolStrokeWidth": 2.5, "symbolFillColor": "black", "symbolOpacity": 1, "labelFontSize": 28, "labelFont": "Liberation Sans", "labelOffset": 54.1, "rowPadding": 7.3, "labelLimit": 400,
                "labelColor": {"expr": "datum.value === 'Alloy-no strain' ? '#000000' : datum.value === 'Alloy-strained' ? '#800000' : datum.value === 'InAs-strained' ? '#00ff00' : indexof(datum.value, 'MOCVD') >= 0 ? '#0000ff' : '#ff0000'"}}},
            "shape": {"field": "series", "type": "nominal",
              "scale": {"domain": ["Alloy-no strain", "Alloy-strained", "InAs-strained", "Alloy-MBE", "Alloy-MOCVD", "SL-MBE", "SL-MOCVD"],
                "range": ["M-0.53,0H6.14", "M-0.53,0H6.14", "M-0.53,0H0.47M0.92,0H1.17M1.62,0H2.62M3.07,0H3.32M3.77,0H4.77M5.22,0H5.47M5.92,0H6.14", "M3.41,0A0.54,0.54,0,1,1,2.33,0A0.54,0.54,0,1,1,3.41,0Z", "M3.41,0A0.54,0.54,0,1,1,2.33,0A0.54,0.54,0,1,1,3.41,0Z", "M-0.53,0H0.47M2.27,-0.54H3.35V0.54H2.27ZM3.35,0H4.64", "M-0.53,0H0.47M2.27,-0.54H3.35V0.54H2.27ZM3.35,0H4.64"]},
              "legend": {"title": null, "orient": "none", "legendX": 20, "legendY": 281, "padding": 4.6, "strokeColor": "black", "symbolSize": 400, "symbolStrokeWidth": 2.5, "symbolFillColor": "black", "symbolOpacity": 1, "labelFontSize": 28, "labelFont": "Liberation Sans", "labelOffset": 54.1, "rowPadding": 7.3, "labelLimit": 400,
                "labelColor": {"expr": "datum.value === 'Alloy-no strain' ? '#000000' : datum.value === 'Alloy-strained' ? '#800000' : datum.value === 'InAs-strained' ? '#00ff00' : indexof(datum.value, 'MOCVD') >= 0 ? '#0000ff' : '#ff0000'"}}}
          }
        }
      ]
    }
  ]
}
